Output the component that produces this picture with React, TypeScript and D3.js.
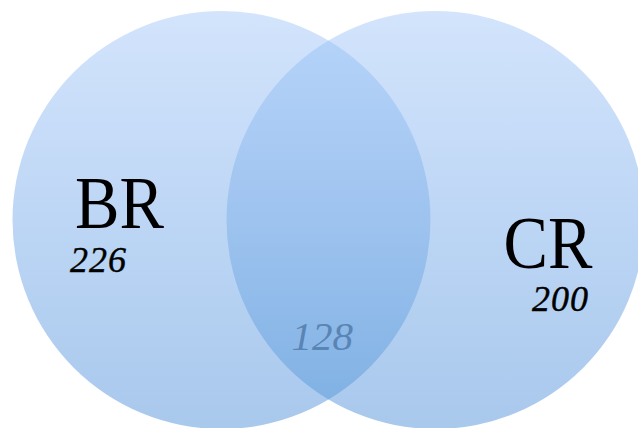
import { useEffect, useRef } from 'react';
import * as d3 from 'd3';

// sets and counts
const sets = ['BR', 'CR'];
const onlyCounts = [226, 200];
const overlapCount = 128;

// layout in circle-radius units (centres at -d/2 and +d/2)
const centreDistance = 1.024;

const App = () => {
  const svgRef = useRef<SVGSVGElement | null>(null);

  const width = 638;
  const height = 428;

  useEffect(() => {
    const svgElement = svgRef.current;
    if (!svgElement) return;
    const svg = d3.select(svgElement);
    svg.selectAll('*').remove();

    const r = 209;
    const cy = 220;
    const x = d3.scaleLinear().domain([-1, 1]).range([328.5 - r, 328.5 + r]);
    const centres = [-centreDistance / 2, centreDistance / 2].map((d) => x(d));

    const defs = svg.append('defs');

    const single = defs.append('linearGradient')
      .attr('id', 'single')
      .attr('gradientUnits', 'userSpaceOnUse')
      .attr('x1', 0).attr('y1', cy - r)
      .attr('x2', 0).attr('y2', cy + r);
    single.append('stop').attr('offset', '0%').attr('stop-color', '#d3e4fc');
    single.append('stop').attr('offset', '50%').attr('stop-color', '#bdd6f5');
    single.append('stop').attr('offset', '100%').attr('stop-color', '#a8c8ec');

    const lens = defs.append('linearGradient')
      .attr('id', 'lens')
      .attr('gradientUnits', 'userSpaceOnUse')
      .attr('x1', 0).attr('y1', cy - r)
      .attr('x2', 0).attr('y2', cy + r);
    lens.append('stop').attr('offset', '0%').attr('stop-color', '#b8d5fa');
    lens.append('stop').attr('offset', '50%').attr('stop-color', '#9ec3ef');
    lens.append('stop').attr('offset', '100%').attr('stop-color', '#7cafe2');

    defs.append('clipPath')
      .attr('id', 'clipL')
      .append('circle')
      .attr('cx', centres[0]).attr('cy', cy).attr('r', r);

    svg.selectAll('circle.set')
      .data(sets)
      .join('circle')
      .attr('class', 'set')
      .attr('cx', (_, i) => centres[i])
      .attr('cy', cy)
      .attr('r', r)
      .attr('fill', 'url(#single)');

    svg.append('circle')
      .attr('cx', centres[1])
      .attr('cy', cy)
      .attr('r', r)
      .attr('clip-path', 'url(#clipL)')
      .attr('fill', 'url(#lens)');

    const labelPos = [
      { x: x(-1.0), y: 228 },
      { x: x(1.05), y: 268 },
    ];
    const countPos = [
      { x: x(-1.1), y: 272 },
      { x: x(1.11), y: 311 },
    ];

    svg.selectAll('text.label')
      .data(sets)
      .join('text')
      .attr('class', 'label')
      .attr('transform', (_, i) => `translate(${labelPos[i].x},${labelPos[i].y}) scale(0.9,1)`)
      .attr('text-anchor', 'middle')
      .attr('font-family', 'Liberation Serif')
      .attr('font-size', 74)
      .attr('fill', '#000')
      .text((d) => d);

    svg.selectAll('text.count')
      .data(onlyCounts)
      .join('text')
      .attr('class', 'count')
      .attr('x', (_, i) => countPos[i].x)
      .attr('y', (_, i) => countPos[i].y)
      .attr('text-anchor', 'middle')
      .attr('font-family', 'Liberation Serif')
      .attr('font-style', 'italic')
      .attr('font-size', 36)
      .attr('letter-spacing', 1)
      .attr('stroke', '#000')
      .attr('stroke-width', 0.4)
      .attr('fill', '#000')
      .text((d) => d);

    svg.append('text')
      .attr('x', x(-0.03))
      .attr('y', 350)
      .attr('text-anchor', 'middle')
      .attr('font-family', 'Liberation Serif')
      .attr('font-style', 'italic')
      .attr('font-size', 41)
      .attr('fill', '#5a84b4')
      .text(overlapCount);
  }, []);

  return (
    <svg
      ref={svgRef}
      width={width}
      height={height}
      style={{ position: 'absolute', left: 0, top: 0, display: 'block' }}
    />
  );
};

export default App;
